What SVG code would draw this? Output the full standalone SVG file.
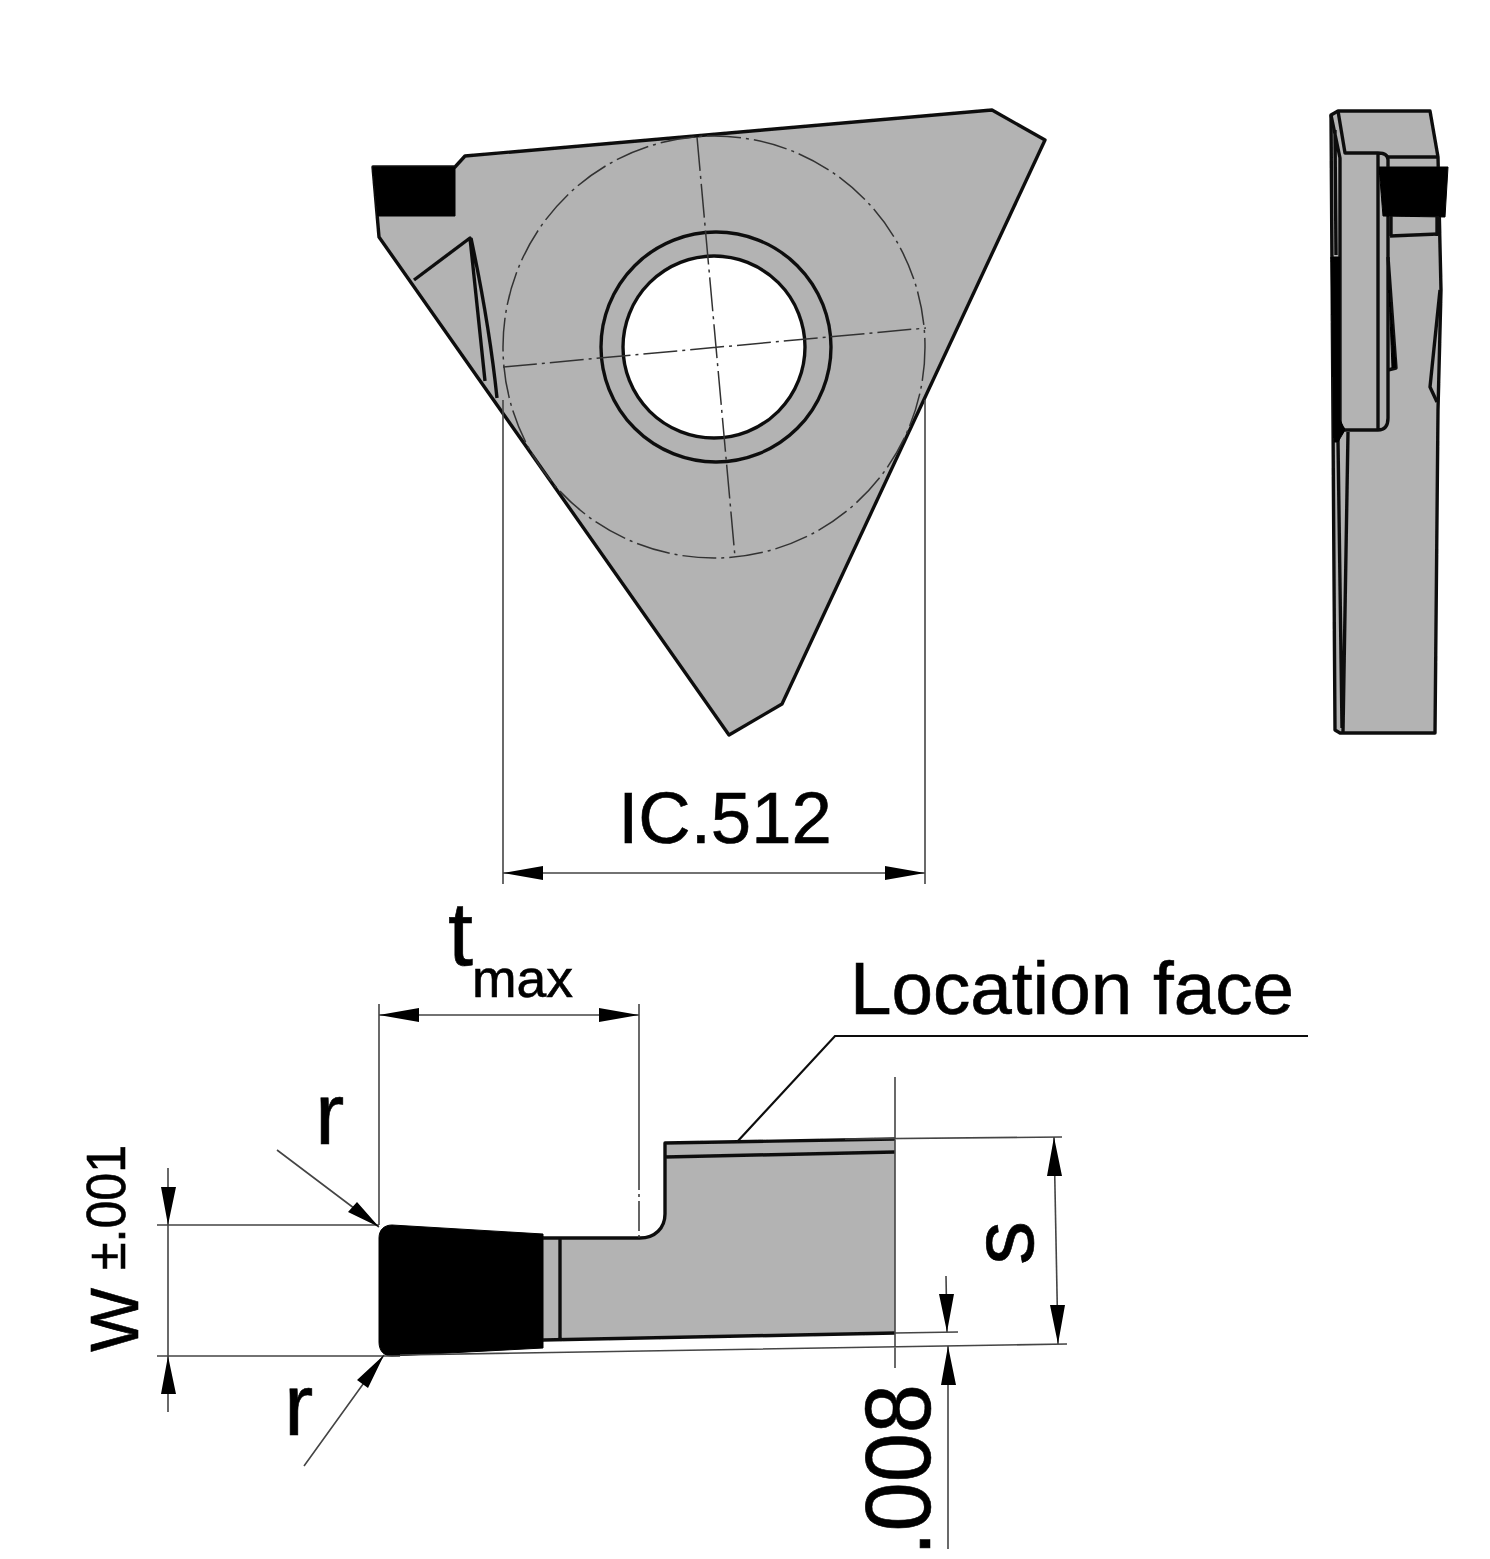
<svg xmlns="http://www.w3.org/2000/svg" width="1490" height="1559" viewBox="0 0 1490 1559">
<defs><filter id="soft" x="-5%" y="-5%" width="110%" height="110%"><feGaussianBlur stdDeviation="0.6"/></filter></defs>
<style>
g{filter:url(#soft)}
.b{fill:#b3b3b3;stroke:#111;stroke-width:3.4;stroke-linejoin:round}
.f{fill:#b3b3b3;stroke:none}
.o{fill:none;stroke:#111;stroke-width:3.4;stroke-linejoin:round}
.k{fill:#000;stroke:#000;stroke-width:1;stroke-linejoin:round}
.t{fill:none;stroke:#444;stroke-width:1.6}
.d{fill:none;stroke:#333;stroke-width:1.5;stroke-dasharray:34 5 3 5}
.a{fill:#000}
text{font-family:"Liberation Sans",Arial,sans-serif;fill:#000;stroke:#000;stroke-width:.6}
</style>
<g id="top-view">
<path class="b" d="M992 110L1045 140L782 704L729 735L379 237L373 167L455 167L465 156Z"/>
<path class="k" d="M373 167L455 167L455 216L378 216Z"/>
<path class="o" d="M414 280L470 238L485 381M471 238C482 290 491 340 497 398"/>
<circle cx="716" cy="347" r="115" class="b"/>
<circle cx="714" cy="347" r="91" fill="#fff" stroke="#111" stroke-width="3.4"/>
<circle cx="714" cy="347" r="211" class="d"/>
<path class="d" d="M697 137L735 557M503 367L926 328"/>
</g>
<g id="side-view">
<path class="b" d="M1331 115L1338 111L1430 111L1438 157L1441 290L1438 410L1435 733L1340 733L1335 730Z"/>
<path class="f" d="M1341 160L1345 153L1388 153L1388 418L1378 430L1345 430L1340 422Z"/>
<path class="o" d="M1338 111L1345 153L1378 153Q1388 153 1388 160L1388 418Q1388 430 1378 430L1345 430Q1340 428 1340 420L1340 158L1331 115M1378 153L1378 430M1335 130L1336 255"/>
<path class="o" d="M1388 157L1438 157M1390 236L1438 234M1388 257L1396 368L1388 370M1440 290L1430 387L1437 402M1348 432L1343 732M1338 440L1342 728"/>
<path class="k" d="M1389 290L1396 368L1392 368Z"/>
<path class="k" d="M1379 167L1448 167L1445 217L1383 216Z"/>
<path class="o" d="M1391 216L1391 236M1437 216L1437 236"/>
<path class="k" d="M1331 257L1340 257L1340 420L1345 430L1338 442L1334 442Z"/>
</g>
<g id="section-view">
<path class="f" d="M543 1238L640 1238C655 1238 665 1228 665 1214L665 1143L895 1139L895 1333L543 1340Z"/>
<path class="o" d="M543 1238L640 1238C655 1238 665 1228 665 1214L665 1143L895 1139M665 1157L895 1152M560 1238L560 1339M543 1340L895 1333"/>
<path class="k" d="M392 1225L543 1234L543 1348L392 1356C383 1356 379 1350 379 1342L379 1238C379 1230 384 1225 392 1225Z"/>
</g>
<g id="connectors">
<path class="t" d="M503 400L503 884M925 400L925 884M503 873L925 873"/>
<path class="a" d="M503 873L543 866L543 880ZM925 873L885 866L885 880Z"/>
<path class="t" d="M379 1004L379 1225M639 1004L639 1160M379 1015L639 1015"/>
<path class="d" d="M639 1160L639 1238" style="stroke-dasharray:30 4 3 4"/>
<path class="a" d="M379 1015L419 1008L419 1022ZM639 1015L599 1008L599 1022Z"/>
<path d="M737 1142L835 1036L1308 1036" fill="none" stroke="#111" stroke-width="2.2"/>
<path class="t" d="M157 1225L379 1225M157 1356L400 1356M168 1168L168 1412"/>
<path class="a" d="M168 1225L161 1187L176 1187ZM168 1356L161 1394L176 1394Z"/>
<path class="t" d="M277 1150L379 1227M304 1466L384 1355"/>
<path class="a" d="M379 1227L348 1212L357 1202ZM384 1355L357 1380L368 1388Z"/>
<path class="t" d="M895 1077L895 1368M845 1139L1062 1137M400 1355L1067 1344M895 1333L958 1332"/>
<path class="t" d="M1054 1137L1058 1344"/>
<path class="a" d="M1054 1137L1047 1176L1062 1176ZM1058 1344L1050 1305L1065 1305Z"/>
<path class="t" d="M946 1276L947 1332M948 1346L948 1549"/>
<path class="a" d="M947 1332L939 1294L954 1294ZM948 1346L941 1385L956 1385Z"/>
</g>
<g id="labels">
<text x="725" y="843" font-size="72.5" text-anchor="middle">IC.512</text>
<text x="448" y="965" font-size="90">t</text>
<text x="472" y="997" font-size="53.5">max</text>
<text x="850" y="1014" font-size="74" textLength="444" lengthAdjust="spacingAndGlyphs">Location face</text>
<text x="315" y="1144" font-size="88">r</text>
<text x="284" y="1435" font-size="88">r</text>
<text transform="translate(1033 1243) rotate(-90)" font-size="88" text-anchor="middle">s</text>
<text transform="translate(138 1352) rotate(-90)" font-size="68">W</text>
<text transform="translate(125 1270) rotate(-90)" font-size="55" textLength="125" lengthAdjust="spacingAndGlyphs">±.001</text>
<text transform="translate(930 1556) rotate(-90)" font-size="92" textLength="172" lengthAdjust="spacingAndGlyphs">.008</text>
</g>
</svg>
